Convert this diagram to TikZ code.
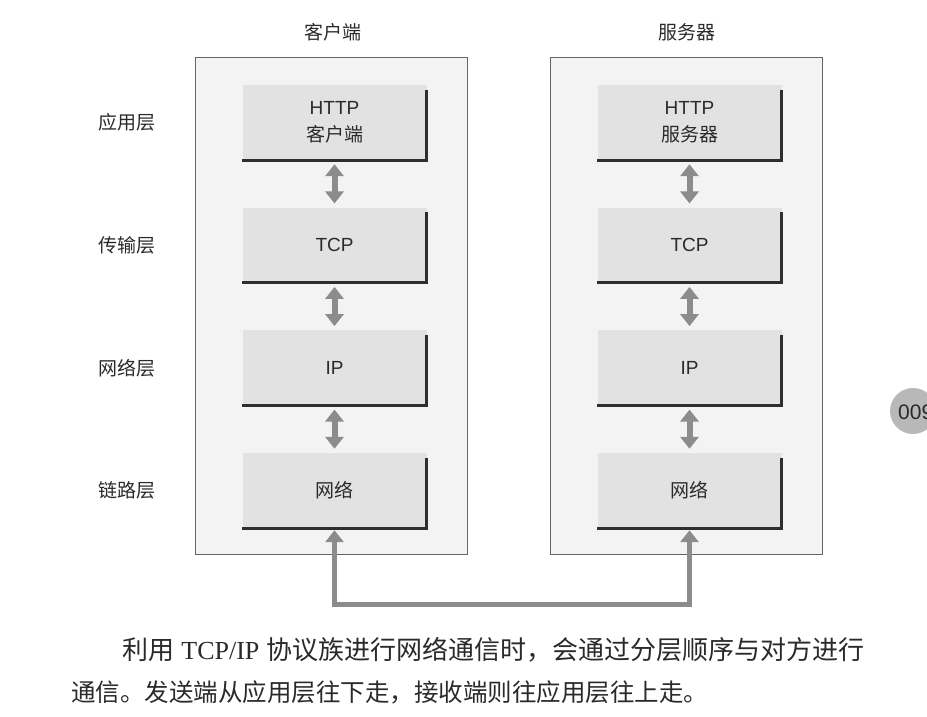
\documentclass[tikz,border=0pt]{standalone}
\usepackage{fontspec}
\setmainfont{Liberation Sans}
\newfontfamily\cjk{Noto Sans CJK SC}
\newfontfamily\captionlatin{Liberation Serif}
\usetikzlibrary{arrows.meta}

\definecolor{hostfill}{HTML}{F3F3F3}
\definecolor{layerfill}{HTML}{E2E2E2}
\definecolor{arrowgray}{HTML}{8C8C8C}
\definecolor{edgegray}{HTML}{2E2E2E}
\definecolor{textgray}{HTML}{2A2A2A}

\begin{document}
\begin{tikzpicture}[x=1pt,y=-1pt,>={Triangle[width=18pt,length=12pt]},
        every node/.style={font=\fontsize{19}{27}\selectfont,text=textgray},
        host/.style={draw=black!60,fill=hostfill,line width=0.9pt,minimum width=272pt,minimum height=497pt},
        layer/.style={fill=layerfill,minimum width=184pt,minimum height=75pt,align=center,inner sep=0pt},
        layeredge/.style={draw=edgegray,line width=3pt},
        updown/.style={<->,draw=arrowgray,line width=6pt,shorten <=4pt,shorten >=4pt},
        wire/.style={<->,draw=arrowgray,line width=5pt,shorten <=2pt,shorten >=2pt}]
        \useasboundingbox (0,0) rectangle (927,717);

        % the two hosts
        \node[host] (clientbox) at (331,305.5) {};
        \node[host] (serverbox) at (686.5,305.5) {};
        \node (client) at (333,32) {\cjk 客户端};
        \node (server) at (687,32) {\cjk 服务器};

        % the four layers, with their names on the left
        \foreach \i/\name/\side/\ctext/\stext in {
            0/app/应用层/{HTTP\\{\cjk 客户端}}/{HTTP\\{\cjk 服务器}},
            1/tcp/传输层/TCP/TCP,
            2/ip/网络层/IP/IP,
            3/link/链路层/{\cjk 网络}/{\cjk 网络}} {
                \node (side-\name) at (127,122.5+122.67*\i) {\cjk \side};
                \node[layer] (c-\name) at (334.5,122.5+122.67*\i) {\ctext};
                \node[layer] (s-\name) at (689.5,122.5+122.67*\i) {\stext};
                % dark edge on the right and at the bottom
                \draw[layeredge] ([yshift=-5pt]c-\name.north east) -- (c-\name.south east) -- (c-\name.south west);
                \draw[layeredge] ([yshift=-5pt]s-\name.north east) -- (s-\name.south east) -- (s-\name.south west);
        }

        % arrows between the layers
        \foreach \a/\b in {app/tcp,tcp/ip,ip/link} {
                \draw[updown] (c-\a.south) -- (c-\b.north);
                \draw[updown] (s-\a.south) -- (s-\b.north);
        }

        % the wire between the two hosts
        \coordinate (bus) at (0,604);
        \draw[wire] (c-link.south) -- (c-link.south |- bus) -- (s-link.south |- bus) -- (s-link.south);

        % caption
        \node[anchor=west,inner sep=0pt,font=\fontsize{26}{30}\selectfont] (line1) at (122,650)
            {{\cjk 利用} {\captionlatin TCP/IP} {\cjk 协议族进行网络通信时，会通过分层顺序与对方进行}};
        \node[anchor=west,inner sep=0pt,font=\fontsize{24.5}{30}\selectfont] (line2) at (71,692)
            {\cjk 通信。发送端从应用层往下走，接收端则往应用层往上走。};

        % page number
        \node[circle,fill=black!28,minimum size=46pt,inner sep=0pt] (page) at (913,411) {};
        \node[anchor=west,inner sep=0pt,font=\fontsize{21}{24}\selectfont] (pageno) at (898,412) {009};
\end{tikzpicture}
\end{document}
